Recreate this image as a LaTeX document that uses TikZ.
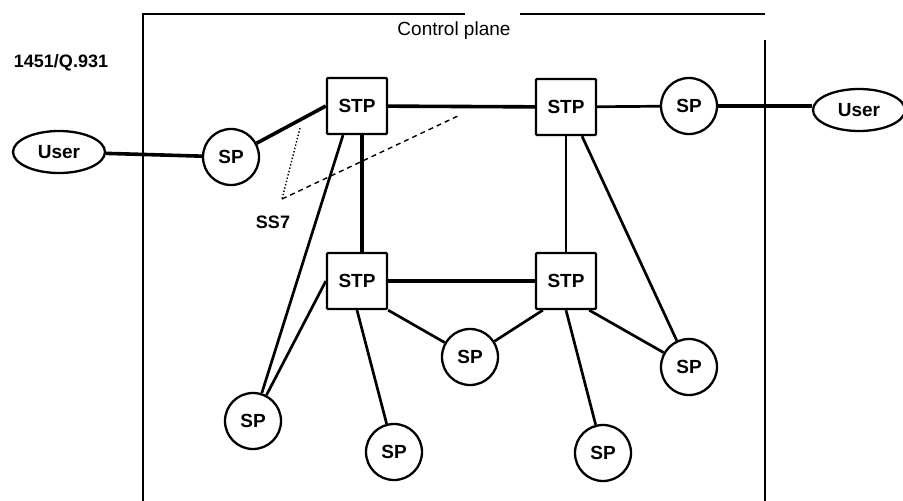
\documentclass[tikz,border=0pt]{standalone}
\usepackage{fontspec}
\setmainfont{Liberation Sans}
\usetikzlibrary{calc,shapes.geometric}

\tikzset{
  link/.style={line width=2.7pt},
  trunk/.style={line width=3.6pt},
  frame/.style={line width=1.8pt},
  stpbox/.style={draw, line width=2.3pt, rounded corners=1pt, minimum width=60pt,
    minimum height=56pt, inner sep=0pt, font=\fontsize{19}{19}\selectfont\bfseries},
  spnode/.style={draw, circle, line width=2.3pt, minimum size=56pt, inner sep=0pt,
    font=\fontsize{19}{19}\selectfont\bfseries},
  usernode/.style={draw, ellipse, line width=2.3pt, minimum width=92pt,
    minimum height=42pt, inner sep=0pt, font=\fontsize{19}{19}\selectfont\bfseries},
  lbl/.style={inner sep=0pt, font=\fontsize{18}{18}\selectfont\bfseries},
}

\begin{document}
\begin{tikzpicture}[x=1pt,y=-1pt]
  \useasboundingbox (0,0) rectangle (903,501);

  % control plane boundary
  \draw[frame] (143,501) -- (143,14) -- (465,14);
  \draw[frame] (520,14) -- (765,14);
  \draw[frame] (765,40) -- (765,501);
  \node[inner sep=0pt, font=\fontsize{19}{19}\selectfont] (cp) at (454,31) {Control plane};
  \node[lbl] (proto) at (61,63) {1451/Q.931};

  % signal transfer points
  \node[stpbox] (stp1) at (357,106) {STP};
  \node[stpbox] (stp2) at (566,107) {STP};
  \node[stpbox] (stp3) at (357,281) {STP};
  \node[stpbox] (stp4) at (566,281) {STP};

  % signalling points
  \node[spnode] (spl)  at (231,157) {SP};
  \node[spnode] (spr)  at (689,106) {SP};
  \node[spnode] (spm)  at (470,357) {SP};
  \node[spnode] (spe)  at (689,367) {SP};
  \node[spnode] (spa)  at (253,421) {SP};
  \node[spnode] (spb)  at (394,452) {SP};
  \node[spnode] (spc)  at (603,453) {SP};

  % users
  \node[usernode] (usl) at (59,152) {User};
  \node[usernode] (usr) at (859,110) {User};

  % access and trunk links
  \draw[trunk] (usl) -- (spl);
  \draw[trunk] (spl) -- (stp1.west);
  \draw[trunk] (stp1) -- (stp2);
  \draw[link]  (stp2) -- (spr);
  \draw[trunk] (spr) -- (spr -| usr.west);
  \draw[trunk] (stp1.south) ++(5,0) coordinate (s1v) -- (s1v |- stp3.north);
  \draw[link]  (stp2) -- (stp4);
  \draw[trunk] (stp3) -- (stp4);

  % links to signalling points
  \draw[link] ($(stp1.south)+(-14,0)$) -- (spa);
  \draw[link] (stp3.west) -- (spa);
  \draw[link] (stp3.south east) -- (spm);
  \draw[link] ($(stp4.south west)+(8,0)$) -- (spm);
  \draw[link] (stp3.south) -- (spb);
  \draw[link] (stp4.south) -- (spc);
  \draw[link] ($(stp4.south east)+(-8,0)$) -- (spe);
  \draw[link] ($(stp2.south)+(16,0)$) -- (spe);

  % SS7 pointer
  \coordinate (ss7p) at (300,128);
  \coordinate (ss7v) at (282,199);
  \coordinate (ss7q) at (460,115);
  \draw[line width=1.4pt, dotted] (ss7p) -- (ss7v);
  \draw[line width=1.4pt, dashed, dash pattern=on 5pt off 4pt] (ss7v) -- (ss7q);
  \node[lbl] (ss7) at (273,222) {SS7};
\end{tikzpicture}
\end{document}
